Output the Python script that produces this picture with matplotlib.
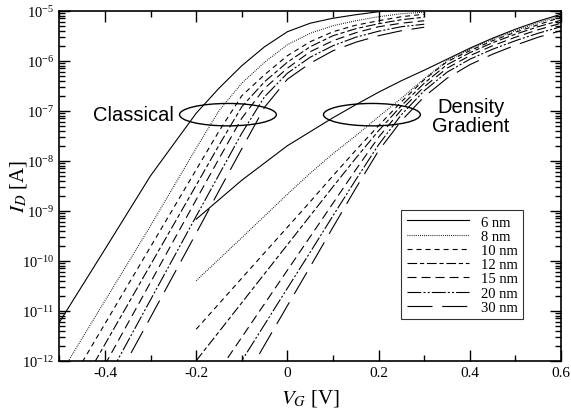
import numpy as np
import matplotlib
matplotlib.use("Agg")
import matplotlib.pyplot as plt
from matplotlib.patches import Ellipse
from matplotlib.ticker import FixedLocator, LogFormatterMathtext, NullFormatter

plt.rcParams['font.family'] = ['Liberation Serif', 'DejaVu Serif']
plt.rcParams['mathtext.fontset'] = 'stix'
plt.rcParams['lines.scale_dashes'] = False

# channel lengths (legend)
labels = ["6 nm", "8 nm", "10 nm", "12 nm", "15 nm", "20 nm", "30 nm"]

# x tick values and labels
xticks = [-0.4, -0.2, 0.0, 0.2, 0.4, 0.6]
xtick_labels = ["-0.4", "-0.2", "0", "0.2", "0.4", "0.6"]
xminor = [-0.5, -0.3, -0.1, 0.1, 0.3, 0.5]
# y decades shown
ydecades = [-12, -11, -10, -9, -8, -7, -6, -5]

# classical simulation, gate voltage grid [V] and log10(I_D [A])
vg_cl = [-0.5, -0.4, -0.3, -0.2, -0.15, -0.1, -0.05, 0.0, 0.05, 0.1, 0.15, 0.2, 0.25, 0.3]
log_id_cl = [
    [-11.23, -9.77, -8.30, -7.05, -6.55, -6.10, -5.72, -5.42, -5.25, -5.15, -5.08, -5.02, -4.98, -4.95],
    [-12.30, -10.80, -9.30, -7.75, -7.00, -6.45, -6.03, -5.68, -5.45, -5.30, -5.20, -5.12, -5.06, -5.03],
    [-12.80, -11.26, -9.72, -8.18, -7.41, -6.70, -6.28, -5.90, -5.62, -5.42, -5.29, -5.20, -5.12, -5.07],
    [-13.26, -11.67, -10.08, -8.49, -7.69, -6.92, -6.42, -6.03, -5.72, -5.50, -5.36, -5.26, -5.18, -5.13],
    [-13.70, -12.08, -10.43, -8.78, -7.96, -7.15, -6.55, -6.15, -5.82, -5.60, -5.44, -5.32, -5.25, -5.20],
    [-14.10, -12.45, -10.78, -9.11, -8.28, -7.45, -6.72, -6.25, -5.93, -5.70, -5.53, -5.41, -5.32, -5.27],
    [-14.50, -12.80, -11.13, -9.45, -8.60, -7.76, -6.93, -6.37, -6.05, -5.80, -5.63, -5.50, -5.40, -5.33],
]

# density gradient simulation
vg_dg = [-0.2, -0.1, 0.0, 0.05, 0.1, 0.15, 0.2, 0.25, 0.3, 0.35, 0.4, 0.45, 0.5, 0.55, 0.6]
log_id_dg = [
    [-9.17, -8.39, -7.70, -7.42, -7.14, -6.88, -6.63, -6.40, -6.19, -5.97, -5.75, -5.55, -5.37, -5.21, -5.07],
    [-10.40, -9.54, -8.67, -8.25, -7.86, -7.50, -7.12, -6.75, -6.36, -6.00, -5.77, -5.57, -5.40, -5.24, -5.10],
    [-11.37, -10.35, -9.33, -8.82, -8.30, -7.79, -7.30, -6.82, -6.38, -6.02, -5.80, -5.60, -5.43, -5.28, -5.13],
    [-12.00, -10.84, -9.68, -9.10, -8.52, -7.95, -7.40, -6.90, -6.45, -6.08, -5.84, -5.64, -5.47, -5.32, -5.19],
    [-12.87, -11.53, -10.19, -9.52, -8.85, -8.18, -7.53, -6.98, -6.52, -6.15, -5.90, -5.70, -5.53, -5.38, -5.25],
    [-13.45, -12.00, -10.55, -9.83, -9.10, -8.38, -7.68, -7.08, -6.60, -6.23, -5.97, -5.77, -5.60, -5.45, -5.32],
    [-14.04, -12.47, -10.90, -10.12, -9.33, -8.55, -7.80, -7.20, -6.72, -6.35, -6.08, -5.87, -5.69, -5.53, -5.40],
]

styles = [
    '-',
    (0, (0.6, 0.9)),
    (0, (3.6, 2.9)),
    (0, (7, 2, 3, 2)),
    (0, (6.5, 3.6)),
    (0, (10, 1.5, 1.5, 1.5, 1.5, 1.5)),
    (0, (18, 7)),
]

fig = plt.figure(figsize=(5.71, 4.14), dpi=100)
ax = fig.add_axes([0.104, 0.1263, 0.8785, 0.8454])

for i in range(len(labels)):
    ax.plot(vg_cl, 10.0 ** np.array(log_id_cl[i]), color='black', lw=0.8,
            linestyle=styles[i], label=labels[i])
    ax.plot(vg_dg, 10.0 ** np.array(log_id_dg[i]), color='black', lw=0.8,
            linestyle=styles[i])

ax.set_yscale('log')
ax.set_xlim(-0.5, 0.6)
ax.set_ylim(1e-12, 1e-5)

ax.set_xticks(xticks)
ax.set_xticklabels(xtick_labels)
ax.xaxis.set_minor_locator(FixedLocator(xminor))

# log ticks only inside the shown range
ymajor = [10.0 ** d for d in ydecades]
yminor = [m * 10.0 ** d for d in ydecades[:-1] for m in range(2, 10)]
ax.yaxis.set_major_locator(FixedLocator(ymajor))
ax.yaxis.set_minor_locator(FixedLocator(yminor))
ax.yaxis.set_major_formatter(LogFormatterMathtext())
ax.yaxis.set_minor_formatter(NullFormatter())

ax.tick_params(which='both', direction='in', top=True, right=True)
ax.tick_params(axis='x', labelsize=11)
ax.tick_params(axis='y', labelsize=10.5)
ax.tick_params(which='major', length=8, width=1)
ax.tick_params(which='minor', length=4, width=1)
for s in ax.spines.values():
    s.set_linewidth(1.2)

ax.set_xlabel(r"$V_G$ [V]", fontsize=15)
ax.set_ylabel(r"$I_D$ [A]", fontsize=15)
ax.xaxis.set_label_coords(0.5, -0.075)
ax.yaxis.set_label_coords(-0.06, 0.5)

# ellipses marking the two groups
for cx in (0.336, 0.623):
    ax.add_patch(Ellipse((cx, 0.703), 0.193, 0.064, transform=ax.transAxes,
                         fill=False, edgecolor='black', lw=1.0))

ax.text(0.067, 0.703, "Classical", transform=ax.transAxes, fontsize=14.5,
        family=['Liberation Sans'], va='center', ha='left')
ax.text(0.82, 0.698, "Density\nGradient", transform=ax.transAxes, fontsize=14.5,
        family=['Liberation Sans'], va='center', ha='center', linespacing=1.0)

leg = ax.legend(loc='upper left', bbox_to_anchor=(0.682, 0.43), fontsize=10.5,
                frameon=True, fancybox=False, edgecolor='black',
                handlelength=4.3, handletextpad=0.8, labelspacing=0.07,
                borderpad=0.35, borderaxespad=0)
leg.get_frame().set_linewidth(0.8)

fig.savefig("out.png", dpi=100)
